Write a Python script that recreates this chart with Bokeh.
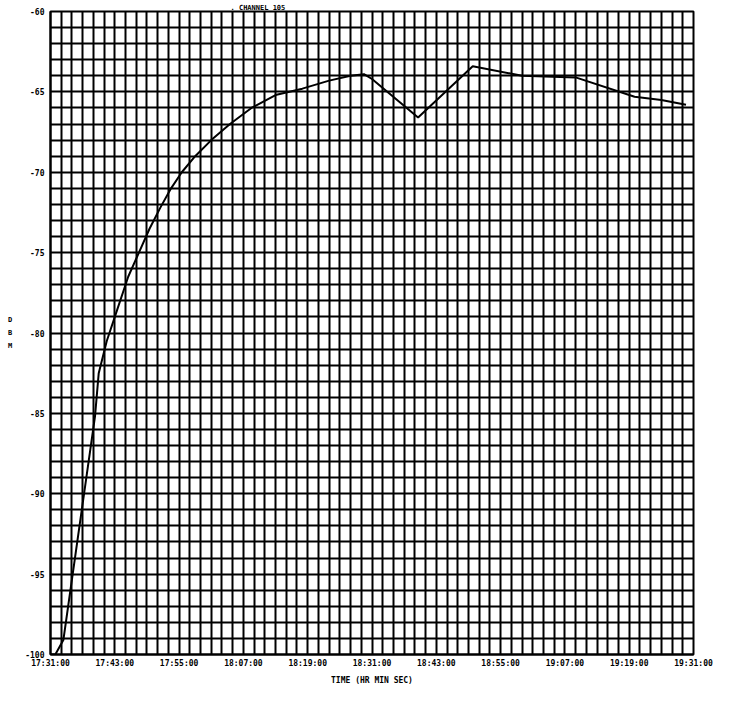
from bokeh.plotting import figure
from bokeh.models import FixedTicker, Range1d
from bokeh.embed import file_html
from bokeh.resources import INLINE

# minutes after 17:31:00
minutes = [0, 0.9, 2.4, 8.3, 9.0, 10.5, 12.5, 14.5, 16.5, 18.5, 20.5, 22.5, 24.5, 27, 30,
           33.5, 37.5, 42, 47, 52, 56, 58.5, 60, 68.6, 78.8, 88, 98, 109, 114, 118.6]
level = [-100, -100, -99.1, -85.2, -82.5, -80.5, -78.5, -76.5, -75, -73.5, -72.2, -71, -70,
         -69, -68, -67, -66, -65.2, -64.8, -64.3, -64, -63.9, -64.2, -66.6, -63.4,
         -64, -64.1, -65.3, -65.5, -65.8]

x_tick_pos = [0, 12, 24, 36, 48, 60, 72, 84, 96, 108, 120]
x_tick_labels = ["17:31:00", "17:43:00", "17:55:00", "18:07:00", "18:19:00", "18:31:00",
                 "18:43:00", "18:55:00", "19:07:00", "19:19:00", "19:31:00"]
y_tick_pos = [-100, -95, -90, -85, -80, -75, -70, -65, -60]
title_text = ".    CHANNEL 105"
x_title = "TIME (HR MIN SEC)"
y_title = "D\nB\nM"

FONT = "DejaVu Sans Mono"

p = figure(width=713, height=687, output_backend="svg", toolbar_location=None,
           x_range=Range1d(0, 120), y_range=Range1d(-100, -60),
           min_border_left=50, min_border_right=20, min_border_top=11, min_border_bottom=29)
p.background_fill_color = "white"
p.border_fill_color = "white"
p.outline_line_color = "black"
p.outline_line_width = 2

p.title.text = title_text
p.title.text_font = FONT
p.title.text_font_style = "bold"
p.title.text_font_size = "7px"
p.title.text_color = "black"
p.title.align = "left"
p.title.offset = 180
p.title.standoff = 0

# axes
p.xaxis.ticker = FixedTicker(ticks=x_tick_pos, minor_ticks=list(range(0, 121, 2)))
p.xaxis.major_label_overrides = {t: l for t, l in zip(x_tick_pos, x_tick_labels)}
p.yaxis.ticker = FixedTicker(ticks=y_tick_pos, minor_ticks=list(range(-100, -59)))
p.yaxis.major_label_overrides = {t: str(t) for t in y_tick_pos}
for ax in (p.xaxis, p.yaxis):
    ax.axis_line_color = "black"
    ax.axis_line_width = 2
    ax.major_tick_line_color = "black"
    ax.minor_tick_line_color = "black"
    ax.major_tick_in = 5
    ax.major_tick_out = 0
    ax.minor_tick_in = 4
    ax.minor_tick_out = 0
    ax.major_label_text_font = FONT
    ax.major_label_text_font_style = "bold"
    ax.major_label_text_font_size = "8px"
    ax.major_label_text_color = "black"
    ax.axis_label_text_color = "black"
p.xaxis.major_label_standoff = 4
p.yaxis.major_label_standoff = 6
p.xaxis.axis_label = x_title
p.xaxis.axis_label_text_font = FONT
p.xaxis.axis_label_text_font_style = "bold"
p.xaxis.axis_label_text_font_size = "8px"
p.xaxis.axis_label_standoff = 5
p.yaxis.axis_label = y_title
p.yaxis.axis_label_orientation = "horizontal"
p.yaxis.axis_label_text_font = FONT
p.yaxis.axis_label_text_font_style = "bold"
p.yaxis.axis_label_text_font_size = "7px"
p.yaxis.axis_label_text_line_height = 1.6
p.yaxis.axis_label_standoff = 10

# grid
p.xgrid.ticker = FixedTicker(ticks=list(range(0, 121, 2)))
p.ygrid.ticker = FixedTicker(ticks=list(range(-100, -59)))
for g in (p.xgrid, p.ygrid):
    g.grid_line_color = "black"
    g.grid_line_width = 2
    g.grid_line_alpha = 1.0

p.line(minutes, level, line_color="black", line_width=2)

open("out.html", "w").write(file_html(p, INLINE))
